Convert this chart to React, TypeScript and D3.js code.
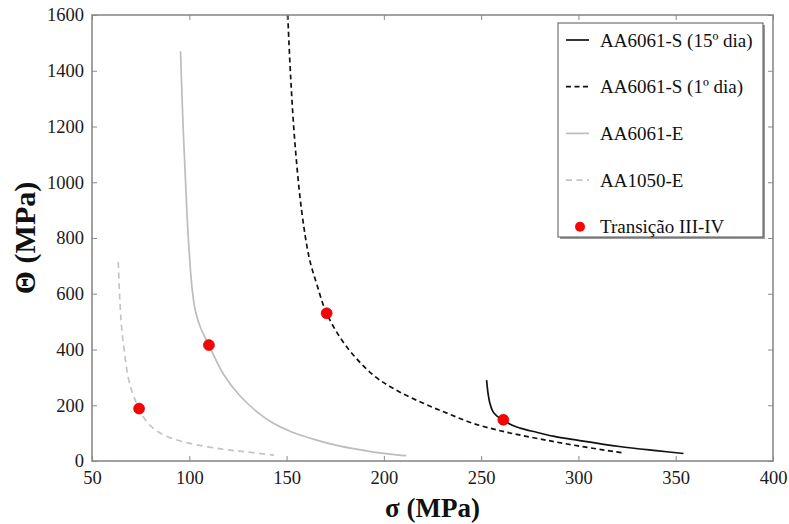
import React, { useEffect, useRef } from "react";
import * as d3 from "d3";

// Θ vs σ hardening curves with stage III-IV transition points
const s15Sigma = [252.8, 253.5, 254.5, 256, 258, 261.4, 266, 270, 278.5, 287, 300, 321, 340, 354];
const s15Theta = [290, 245, 207, 178, 162, 147, 128, 118, 103, 89, 74, 52, 37, 27];

const s1Sigma = [150.6, 152.1, 154.3, 157.7, 161.7, 165.4, 170.6, 180, 194.6, 207, 220.3, 233, 245.9, 262, 280.2, 300, 322.2];
const s1Theta = [1600, 1377, 1140, 900, 727, 637, 530, 418, 308, 252, 207, 170, 135, 105, 79, 54, 30];

const eSigma = [95.5, 96.2, 97, 97.9, 99.5, 101.5, 103.1, 105.8, 110.1, 117.5, 126, 136.3, 143, 152, 165, 177, 194, 203, 211.5];
const eTheta = [1470, 1320, 1170, 1030, 800, 615, 540, 478, 416, 312, 234, 168, 136, 106, 76, 54, 33, 25, 19];

const e1050Sigma = [63.5, 64, 64.6, 65.2, 66.5, 68.6, 71, 74.2, 78, 83.2, 90, 100.4, 117.5, 130, 143.5];
const e1050Theta = [714, 620, 540, 481, 400, 300, 240, 188, 142, 108, 84, 63, 42, 32, 21];

const transSigma = [74.2, 110.1, 170.6, 261.4];
const transTheta = [188, 416, 530, 148];

const xTicks = [50, 100, 150, 200, 250, 300, 350, 400];
const yTicks = [0, 200, 400, 600, 800, 1000, 1200, 1400, 1600];

const series = [
  { name: "AA6061-S (15º dia)", sigma: s15Sigma, theta: s15Theta, color: "#111", dash: null, width: 1.7 },
  { name: "AA6061-S (1º dia)", sigma: s1Sigma, theta: s1Theta, color: "#111", dash: "5,3.5", width: 1.7 },
  { name: "AA6061-E", sigma: eSigma, theta: eTheta, color: "#bdbdbd", dash: null, width: 1.7 },
  { name: "AA1050-E", sigma: e1050Sigma, theta: e1050Theta, color: "#c4c4c4", dash: "6,4.5", width: 1.7 },
];

const W = 789;
const H = 524;
const font = "Liberation Serif, Times New Roman, DejaVu Serif, serif";

export default function App() {
  const ref = useRef<SVGSVGElement | null>(null);

  useEffect(() => {
    const svg = d3.select(ref.current);
    svg.selectAll("*").remove();

    const left = 92, right = 773, top = 15, bottom = 461;
    const x = d3.scaleLinear().domain([50, 400]).range([left, right]);
    const y = d3.scaleLinear().domain([0, 1600]).range([bottom, top]);

    const frameColor = "#8a8a8a";

    // curves
    const g = svg.append("g");
    series.forEach((s) => {
      const pts = s.sigma.map((v, i) => [v, s.theta[i]] as [number, number]);
      const line = d3
        .line<[number, number]>()
        .x((d) => x(d[0]))
        .y((d) => y(d[1]))
        .curve(d3.curveCatmullRom.alpha(0.5));
      const p = g
        .append("path")
        .attr("d", line(pts))
        .attr("fill", "none")
        .attr("stroke", s.color)
        .attr("stroke-width", s.width);
      if (s.dash) p.attr("stroke-dasharray", s.dash);
    });

    g.selectAll("circle.tr")
      .data(transSigma.map((v, i) => [v, transTheta[i]]))
      .join("circle")
      .attr("cx", (d) => x(d[0]))
      .attr("cy", (d) => y(d[1]))
      .attr("r", 5.5)
      .attr("fill", "#ff0000")
      .attr("stroke", "#c00000")
      .attr("stroke-width", 0.6);

    // frame
    svg
      .append("rect")
      .attr("x", left)
      .attr("y", top)
      .attr("width", right - left)
      .attr("height", bottom - top)
      .attr("fill", "none")
      .attr("stroke", frameColor)
      .attr("stroke-width", 1.6);

    const styleAxis = (sel: any, labels: boolean) => {
      sel.attr("font-family", font).attr("font-size", 18.5);
      sel.select(".domain").remove();
      sel.selectAll(".tick line").attr("stroke", frameColor).attr("stroke-width", 1);
      sel
        .selectAll(".tick text")
        .attr("fill", "#1a1a1a")
        .style("display", labels ? null : "none");
    };

    svg
      .append("g")
      .attr("transform", `translate(0,${bottom})`)
      .call(d3.axisBottom(x).tickValues(xTicks).tickSize(-5).tickPadding(10).tickFormat(d3.format("d")))
      .call((s) => styleAxis(s, true));
    svg
      .append("g")
      .attr("transform", `translate(0,${top})`)
      .call(d3.axisTop(x).tickValues(xTicks).tickSize(-5))
      .call((s) => styleAxis(s, false));
    svg
      .append("g")
      .attr("transform", `translate(${left},0)`)
      .call(d3.axisLeft(y).tickValues(yTicks).tickSize(-5).tickPadding(8).tickFormat(d3.format("d")))
      .call((s) => styleAxis(s, true));
    svg
      .append("g")
      .attr("transform", `translate(${right},0)`)
      .call(d3.axisRight(y).tickValues(yTicks).tickSize(-5))
      .call((s) => styleAxis(s, false));

    // axis titles
    svg
      .append("text")
      .attr("x", (left + right) / 2)
      .attr("y", 517)
      .attr("text-anchor", "middle")
      .attr("font-family", font)
      .attr("font-weight", "bold")
      .attr("font-size", 27)
      .attr("fill", "#111")
      .text("σ (MPa)");
    svg
      .append("text")
      .attr("transform", `translate(35,${(top + bottom) / 2}) rotate(-90)`)
      .attr("text-anchor", "middle")
      .attr("font-family", font)
      .attr("font-weight", "bold")
      .attr("font-size", 30)
      .attr("fill", "#111")
      .text("Θ (MPa)");

    // legend
    const lg = svg.append("g").attr("font-family", font).attr("font-size", 19);
    const lx = 558, ly = 23, lw = 205, lh = 214;
    lg.append("rect")
      .attr("x", lx + 2)
      .attr("y", ly + 2)
      .attr("width", lw)
      .attr("height", lh)
      .attr("fill", "#9a9a9a");
    lg.append("rect")
      .attr("x", lx)
      .attr("y", ly)
      .attr("width", lw)
      .attr("height", lh)
      .attr("fill", "#fff")
      .attr("stroke", "#555")
      .attr("stroke-width", 1);

    const rowY = (i: number) => 40 + i * 46.7;
    series.forEach((s, i) => {
      const l = lg
        .append("line")
        .attr("x1", 566)
        .attr("x2", 589)
        .attr("y1", rowY(i))
        .attr("y2", rowY(i))
        .attr("stroke", s.color)
        .attr("stroke-width", s.width);
      if (s.dash) l.attr("stroke-dasharray", s.dash);
      lg.append("text")
        .attr("x", 600)
        .attr("y", rowY(i) + 6.5)
        .attr("fill", "#111")
        .text(s.name);
    });
    lg.append("circle")
      .attr("cx", 580)
      .attr("cy", rowY(4))
      .attr("r", 5)
      .attr("fill", "#ff0000");
    lg.append("text")
      .attr("x", 600)
      .attr("y", rowY(4) + 6.5)
      .attr("fill", "#111")
      .text("Transição III-IV");
  }, []);

  return (
    <svg
      ref={ref}
      width={W}
      height={H}
      style={{ position: "absolute", left: 0, top: 0, background: "#fff" }}
    />
  );
}
